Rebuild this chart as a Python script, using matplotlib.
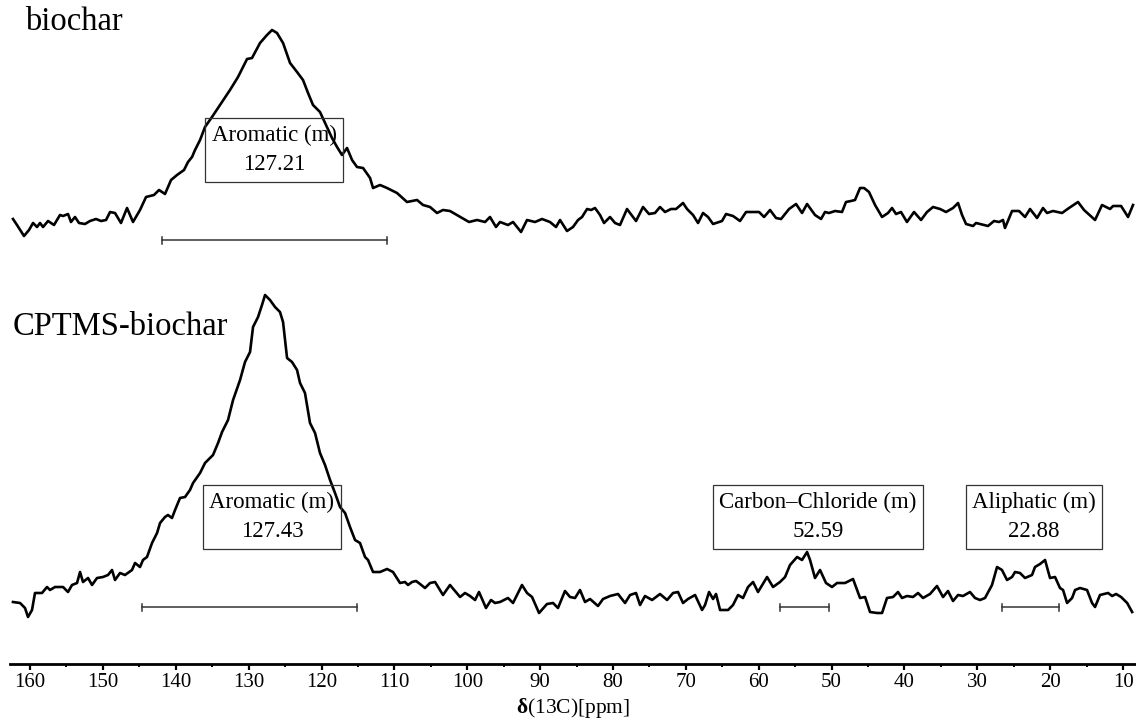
import numpy as np
import matplotlib
matplotlib.use("Agg")
import matplotlib.pyplot as plt

plt.rcParams['font.family'] = ['Liberation Serif', 'DejaVu Serif']
plt.rcParams['mathtext.fontset'] = 'custom'
plt.rcParams['mathtext.rm'] = 'Liberation Serif'
plt.rcParams['mathtext.bf'] = 'Liberation Serif:bold'

# chemical shift (ppm) and intensity (arb. units)
ppm_bio = [162.34, 161.79, 160.83, 160.14, 159.59, 159.04, 158.63, 158.22, 157.53, 156.71,
           155.89, 155.47, 154.79, 154.38, 153.83, 153.28, 152.46, 151.77, 150.95, 150.26,
           149.57, 149.02, 148.34, 147.52, 146.69, 145.87, 144.91, 144.08, 142.99, 142.30,
           141.48, 140.65, 139.83, 138.87, 138.32, 137.77, 137.36, 136.67, 135.99, 135.03,
           133.93, 132.56, 131.46, 130.22, 129.54, 128.44, 127.48, 126.79, 126.11, 125.28,
           124.32, 123.36, 122.54, 121.85, 121.17, 120.21, 119.25, 118.56, 117.87, 117.19,
           116.50, 115.81, 115.13, 114.30, 113.34, 112.93, 111.97, 111.01, 109.64, 108.27,
           106.89, 106.07, 105.11, 104.15, 103.33, 102.37, 100.72, 99.76, 98.66, 97.56,
           96.88, 96.06, 95.51, 94.41, 93.72, 92.62, 91.80, 90.70, 89.74, 88.65,
           87.82, 87.27, 86.31, 85.49, 84.80, 84.25, 83.56, 83.01, 82.47, 81.78,
           81.23, 80.41, 79.72, 79.04, 78.08, 76.84, 75.88, 75.06, 74.24, 73.55,
           72.86, 72.04, 71.35, 70.39, 69.84, 69.02, 68.33, 67.65, 66.96, 66.27,
           65.45, 65.04, 64.49, 63.53, 62.57, 61.74, 59.96, 59.27, 58.45, 57.63,
           56.94, 55.84, 54.88, 54.06, 53.37, 52.28, 51.45, 50.91, 50.36, 49.53,
           48.57, 48.03, 47.34, 46.79, 46.10, 45.55, 44.87, 44.04, 43.08, 42.26,
           41.71, 41.16, 40.48, 39.66, 38.69, 37.73, 36.91, 36.08, 35.12, 34.30,
           33.34, 32.65, 32.10, 31.55, 30.59, 30.18, 28.54, 27.71, 27.03, 26.48,
           26.21, 25.24, 24.28, 23.46, 22.77, 21.81, 20.99, 20.44, 19.62, 18.38,
           17.42, 16.19, 15.36, 13.85, 12.89, 11.79, 11.38, 10.28, 9.32, 8.64]
int_bio = [21, 15, 4, 10, 17, 13, 17, 13, 19, 15,
           25, 24, 26, 18, 23, 17, 16, 19, 21, 19,
           20, 28, 27, 17, 32, 18, 30, 43, 45, 50,
           46, 60, 65, 70, 78, 83, 90, 100, 113, 123,
           135, 150, 163, 181, 182, 197, 205, 210, 207, 197,
           177, 168, 160, 147, 135, 128, 113, 102, 93, 85,
           92, 80, 73, 72, 62, 52, 55, 52, 47, 38,
           40, 35, 33, 27, 30, 29, 22, 18, 20, 18,
           23, 13, 18, 15, 18, 8, 20, 18, 21, 18,
           13, 20, 9, 13, 20, 23, 31, 30, 32, 25,
           17, 23, 17, 15, 31, 19, 33, 26, 27, 33,
           28, 31, 31, 37, 31, 25, 17, 27, 23, 16,
           18, 19, 26, 24, 19, 28, 28, 23, 30, 22,
           21, 31, 36, 27, 36, 25, 21, 28, 27, 29,
           28, 38, 39, 40, 52, 52, 48, 35, 23, 27,
           32, 26, 28, 18, 28, 20, 28, 33, 31, 28,
           32, 37, 25, 16, 14, 17, 14, 19, 18, 20,
           12, 29, 29, 23, 31, 22, 32, 27, 29, 27,
           32, 38, 30, 20, 35, 31, 34, 34, 23, 35]

ppm_cpt = [162.34, 161.37, 160.69, 160.28, 159.73, 159.32, 158.36, 157.67, 157.26, 156.57,
           155.47, 154.79, 154.24, 153.55, 153.14, 152.73, 152.04, 151.49, 150.81, 149.99,
           149.30, 148.75, 148.34, 147.65, 146.97, 146.01, 145.59, 144.91, 144.50, 143.95,
           143.26, 142.57, 142.16, 141.48, 141.07, 140.52, 140.10, 139.42, 138.73, 138.05,
           137.63, 136.67, 135.99, 134.89, 134.20, 133.65, 132.83, 132.14, 131.18, 130.50,
           129.81, 129.40, 128.71, 128.17, 127.75, 127.07, 126.38, 125.70, 125.28, 124.73,
           124.05, 123.36, 122.95, 122.27, 121.58, 120.89, 120.21, 119.52, 118.83, 118.15,
           117.46, 116.77, 116.09, 115.40, 114.72, 114.03, 113.62, 112.93, 111.97, 111.01,
           110.19, 109.23, 108.54, 108.13, 107.58, 107.03, 106.48, 105.80, 105.11, 104.42,
           103.33, 102.37, 101.68, 100.99, 100.31, 99.62, 98.93, 98.39, 97.43, 96.74,
           96.19, 95.51, 94.41, 93.72, 92.49, 91.80, 91.11, 90.15, 89.06, 88.23,
           87.55, 86.59, 85.90, 85.21, 84.53, 83.84, 83.15, 82.06, 81.37, 80.41,
           79.31, 78.35, 77.66, 76.84, 76.29, 75.61, 74.64, 73.55, 72.58, 71.76,
           71.08, 70.39, 69.71, 68.74, 67.78, 67.37, 66.82, 66.27, 65.86, 65.31,
           64.21, 63.53, 62.84, 62.16, 61.47, 60.78, 60.10, 58.86, 58.04, 57.08,
           56.39, 55.71, 54.74, 54.06, 53.37, 52.96, 52.28, 51.59, 50.77, 49.94,
           49.26, 48.16, 47.06, 46.10, 45.41, 44.73, 43.76, 43.08, 42.40, 41.57,
           40.89, 40.34, 39.65, 38.83, 38.14, 37.46, 36.50, 35.54, 34.71, 34.03,
           33.34, 32.65, 31.97, 31.01, 30.32, 29.63, 28.95, 27.99, 27.30, 26.62,
           25.93, 25.24, 24.83, 24.15, 23.46, 22.50, 22.09, 21.40, 20.71, 20.03,
           19.34, 18.66, 18.24, 17.69, 17.00, 16.59, 15.91, 14.95, 14.26, 13.85,
           13.17, 12.07, 11.50, 10.96, 10.28, 9.44, 8.76]
int_cpt = [18, 17, 12, 3, 10, 27, 27, 33, 30, 33,
           33, 28, 35, 37, 48, 38, 42, 35, 42, 43,
           45, 50, 40, 47, 45, 50, 57, 53, 60, 63,
           77, 87, 97, 103, 105, 102, 110, 122, 123, 130,
           137, 147, 157, 165, 177, 188, 200, 220, 240, 258,
           268, 293, 303, 315, 325, 320, 313, 308, 298, 262,
           258, 250, 237, 227, 197, 187, 167, 155, 140, 127,
           113, 107, 93, 80, 77, 63, 60, 48, 48, 51,
           48, 37, 38, 35, 38, 39, 36, 32, 37, 38,
           25, 35, 29, 23, 27, 24, 20, 28, 12, 20,
           17, 18, 22, 17, 35, 27, 23, 7, 16, 17,
           12, 29, 23, 22, 30, 18, 21, 14, 21, 24,
           26, 17, 25, 27, 15, 24, 20, 26, 20, 27,
           28, 17, 21, 25, 10, 15, 28, 21, 26, 10,
           10, 15, 25, 22, 33, 38, 28, 43, 33, 38,
           43, 55, 63, 60, 68, 60, 42, 50, 37, 33,
           37, 37, 41, 22, 23, 8, 7, 7, 22, 23,
           28, 22, 24, 23, 27, 22, 26, 34, 23, 29,
           19, 25, 24, 28, 22, 20, 22, 35, 53, 50,
           40, 43, 48, 47, 42, 45, 53, 56, 60, 42,
           43, 32, 30, 17, 22, 30, 32, 30, 17, 13,
           25, 27, 24, 26, 23, 17, 8]

sample_names = ["biochar", "CPTMS-biochar"]

# peak annotations
peak_labels = ["Aromatic (m)", "Aromatic (m)", "Carbon\u2013Chloride (m)", "Aliphatic (m)"]
peak_shifts = ["127.21", "127.43", "52.59", "22.88"]
# integration ranges (ppm)
int_start = [141.89, 144.63, 57.08, 26.62]
int_end = [111.01, 115.13, 50.36, 18.79]

# layout
offsets = [424, 44]
box_x = [126.5, 126.8, 51.9, 22.2]
box_y = [514, 147, 147, 147]
bar_y = [424, 57, 57, 57]

fig = plt.figure(figsize=(11.36, 7.25), dpi=100)
ax = fig.add_axes([10 / 1136, 1 - 664 / 725, 1126 / 1136, 664 / 725])

traces = [(ppm_bio, int_bio), (ppm_cpt, int_cpt)]
for (x, y), off in zip(traces, offsets):
    ax.plot(x, np.array(y) + off, color='black', lw=1.9, solid_joinstyle='round')

ax.text(160.7, 642, sample_names[0], fontsize=23.5, va='center', ha='left')
ax.text(162.45, 337, sample_names[1], fontsize=23.5, va='center', ha='left')

for i in range(len(peak_labels)):
    ax.text(box_x[i], box_y[i], peak_labels[i] + "\n" + peak_shifts[i], fontsize=16.5,
            ha='center', va='center', linespacing=1.55,
            bbox=dict(boxstyle='square,pad=0.27', fc='none', ec='#333333', lw=0.9))
    yb = bar_y[i]
    ax.plot([int_start[i], int_end[i]], [yb, yb], color='#333333', lw=1.1)
    for xe in (int_start[i], int_end[i]):
        ax.plot([xe, xe], [yb - 3.5, yb + 3.5], color='#333333', lw=1.1)

ax.set_xlim(162.75, 8.23)
ax.set_ylim(0, 664)
for s in ['top', 'left', 'right']:
    ax.spines[s].set_visible(False)
ax.spines['bottom'].set_linewidth(2)
ax.set_yticks([])
ax.set_xticks(np.arange(160, 9, -10))
ax.set_xticks(np.arange(155, 9, -10), minor=True)
ax.tick_params(axis='x', which='major', direction='out', length=4.5, width=1.6,
               labelsize=15, pad=2)
ax.tick_params(axis='x', which='minor', direction='out', length=2.2, width=1.4)
ax.set_xlabel(r'$\mathbf{\delta}$(13C)[ppm]', fontsize=15.5, labelpad=3)

fig.savefig("out.png", dpi=100)
